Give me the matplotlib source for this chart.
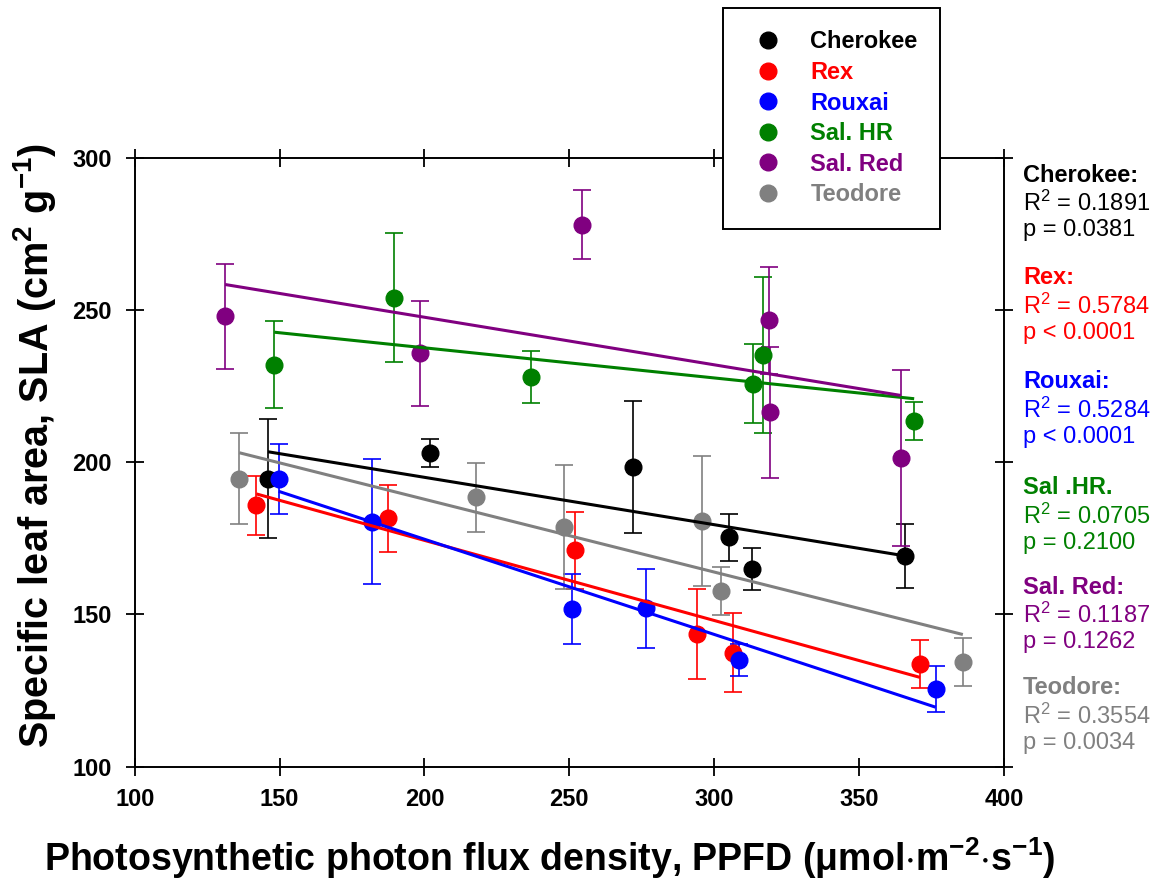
import matplotlib
matplotlib.use("Agg")
import matplotlib.pyplot as plt
from matplotlib.lines import Line2D
import numpy as np

plt.rcParams['font.family'] = ['Liberation Sans', 'DejaVu Sans']
plt.rcParams['mathtext.fontset'] = 'custom'
plt.rcParams['mathtext.rm'] = 'Liberation Sans'
plt.rcParams['mathtext.it'] = 'Liberation Sans:italic'
plt.rcParams['mathtext.bf'] = 'Liberation Sans:bold'
plt.rcParams['mathtext.default'] = 'regular'

# ---------------- data ----------------
cultivars = ['Cherokee', 'Rex', 'Rouxai', 'Sal. HR', 'Sal. Red', 'Teodore']
colors = ['#000000', '#FF0000', '#0000FF', '#008000', '#800080', '#808080']

cherokee_x = [146, 202, 272, 305, 313, 366]
cherokee_y = [194.5, 202.9, 198.4, 175.3, 164.9, 169.1]
cherokee_err = [19.5, 4.6, 21.8, 7.7, 7.0, 10.5]

rex_x = [142, 187.5, 252, 294, 306.5, 371]
rex_y = [185.8, 181.5, 171.0, 143.5, 137.4, 133.7]
rex_err = [9.6, 11.0, 12.7, 14.7, 12.9, 8.0]

rouxai_x = [149.7, 182, 251, 276.5, 308.6, 376.4]
rouxai_y = [194.6, 180.4, 151.8, 152.0, 135.1, 125.5]
rouxai_err = [11.5, 20.5, 11.5, 12.9, 5.3, 7.7]

salhr_x = [148.2, 189.6, 236.8, 313.5, 316.9, 369]
salhr_y = [231.9, 254.0, 227.9, 225.7, 235.2, 213.5]
salhr_err = [14.3, 21.2, 8.5, 13.0, 25.5, 6.3]

salred_x = [131.2, 198.5, 254.5, 318.8, 319.2, 364.4]
salred_y = [247.9, 235.7, 277.9, 246.6, 216.3, 201.3]
salred_err = [17.2, 17.2, 11.3, 17.6, 21.4, 29.0]

teodore_x = [136.1, 217.7, 248, 295.9, 302.3, 385.8]
teodore_y = [194.6, 188.5, 178.7, 180.6, 157.8, 134.4]
teodore_err = [14.8, 11.3, 20.3, 21.4, 7.9, 7.8]

# regression lines (intercept, slope)
fit_intercept = [226.1, 226.9, 237.2, 257.3, 278.8, 235.6]
fit_slope = [-0.1555, -0.263, -0.3126, -0.0989, -0.1562, -0.239]

stat_titles = ['Cherokee:', 'Rex:', 'Rouxai:', 'Sal .HR.', 'Sal. Red:', 'Teodore:']
r2_values = ['0.1891', '0.5784', '0.5284', '0.0705', '0.1187', '0.3554']
p_values = ['= 0.0381', '< 0.0001', '< 0.0001', '= 0.2100', '= 0.1262', '= 0.0034']

xticks = [100, 150, 200, 250, 300, 350, 400]
yticks = [100, 150, 200, 250, 300]

series_x = [cherokee_x, rex_x, rouxai_x, salhr_x, salred_x, teodore_x]
series_y = [cherokee_y, rex_y, rouxai_y, salhr_y, salred_y, teodore_y]
series_err = [cherokee_err, rex_err, rouxai_err, salhr_err, salred_err, teodore_err]

# ---------------- figure ----------------
W, H = 1156, 886
fig = plt.figure(figsize=(W / 100, H / 100), dpi=100)
ax = fig.add_axes([134.7 / W, 1 - 766.7 / H, (1004 - 134.7) / W, (766.7 - 157.5) / H])

handles = []
for i in range(len(cultivars)):
    x = np.array(series_x[i]); y = np.array(series_y[i]); e = np.array(series_err[i])
    ax.errorbar(x, y, yerr=e, fmt='o', color=colors[i], ms=12, mec=colors[i],
                ecolor=colors[i], elinewidth=1.2, capsize=6.5, capthick=1.2,
                zorder=3)
    handles.append(Line2D([], [], ls='none', marker='o', ms=12, color=colors[i],
                          mec=colors[i]))
    xs = np.array([x.min(), x.max()])
    ax.plot(xs, fit_intercept[i] + fit_slope[i] * xs, color=colors[i], lw=2.2,
            zorder=4, solid_capstyle='butt')

ax.set_xlim(100, 400)
ax.set_ylim(100, 300)
ax.set_xticks(xticks)
ax.set_yticks(yticks)
ax.tick_params(axis='both', which='both', direction='inout', length=13, width=1.3,
               top=True, right=True, labelsize=17, colors='black')
ax.tick_params(axis='y', pad=10)
ax.tick_params(axis='x', pad=9)
for lab in ax.get_xticklabels() + ax.get_yticklabels():
    lab.set_fontweight('bold')
for sp in ax.spines.values():
    sp.set_linewidth(1.4)
    sp.set_color('black')

# axis labels
fig.text(550 / W, 1 - 858 / H,
         r'Photosynthetic photon flux density, PPFD ($\mathbf{\mu}$mol$\cdot$m$^{\mathbf{-2}}$$\cdot$s$^{\mathbf{-1}}$)',
         ha='center', va='center', fontsize=27, fontweight='bold')
fig.text(35 / W, 1 - 445 / H, r'Specific leaf area, SLA (cm$^{\mathbf{2}}$ g$^{\mathbf{-1}}$)',
         ha='center', va='center', rotation=90, fontsize=28.5, fontweight='bold')

# legend
leg = fig.legend(handles=handles, labels=cultivars, loc='upper left',
                 bbox_to_anchor=(723 / W, 1 - 8 / H), bbox_transform=fig.transFigure,
                 frameon=True, fancybox=False, edgecolor='black', framealpha=1,
                 prop={'weight': 'bold', 'size': 17}, borderpad=0.95, handlelength=1.9,
                 handletextpad=0.85, labelspacing=0.32, borderaxespad=0)
leg.get_frame().set_linewidth(1.4)
for t, c in zip(leg.get_texts(), colors):
    t.set_color(c)

# statistics text on the right
block_y = [175, 278, 382, 488, 587, 688]
for i in range(len(cultivars)):
    y0 = block_y[i]
    fig.text(1023 / W, 1 - y0 / H, stat_titles[i], color=colors[i], fontsize=17,
             fontweight='bold', ha='left', va='center')
    fig.text(1023 / W, 1 - (y0 + 28) / H, 'R$^2$ = ' + r2_values[i], color=colors[i],
             fontsize=17, ha='left', va='center')
    fig.text(1023 / W, 1 - (y0 + 55) / H, 'p ' + p_values[i], color=colors[i],
             fontsize=17, ha='left', va='center')

fig.savefig('out.png', dpi=100)
